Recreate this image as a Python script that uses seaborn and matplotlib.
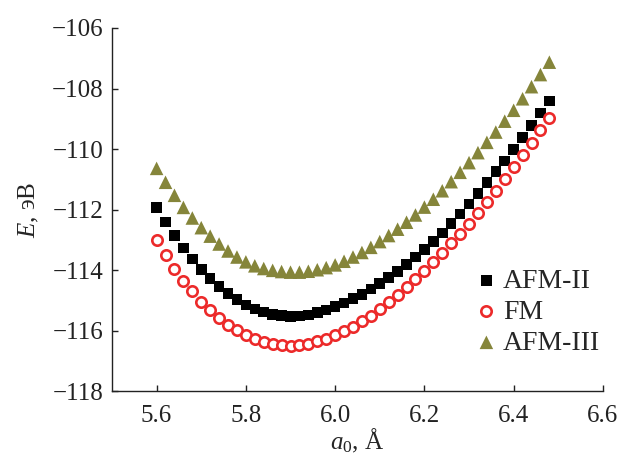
import numpy as np
import pandas as pd
import matplotlib
matplotlib.use("Agg")
import matplotlib.pyplot as plt
import seaborn as sns

# lattice parameter a0, A (step 0.02)
a0 = [5.60, 5.62, 5.64, 5.66, 5.68, 5.70, 5.72, 5.74, 5.76, 5.78,
      5.80, 5.82, 5.84, 5.86, 5.88, 5.90, 5.92, 5.94, 5.96, 5.98,
      6.00, 6.02, 6.04, 6.06, 6.08, 6.10, 6.12, 6.14, 6.16, 6.18,
      6.20, 6.22, 6.24, 6.26, 6.28, 6.30, 6.32, 6.34, 6.36, 6.38,
      6.40, 6.42, 6.44, 6.46, 6.48]

# total energy, eV
e_afm2 = [-111.93, -112.41, -112.86, -113.27, -113.64, -113.98, -114.28, -114.55, -114.78, -114.98,
          -115.15, -115.29, -115.39, -115.46, -115.51, -115.53, -115.52, -115.48, -115.41, -115.32,
          -115.21, -115.09, -114.95, -114.80, -114.63, -114.45, -114.25, -114.04, -113.81, -113.57,
          -113.32, -113.06, -112.78, -112.47, -112.15, -111.82, -111.47, -111.11, -110.75, -110.39,
          -110.01, -109.61, -109.22, -108.81, -108.41]
e_fm = [-113.01, -113.50, -113.95, -114.35, -114.70, -115.04, -115.33, -115.58, -115.80, -115.99,
        -116.15, -116.28, -116.38, -116.45, -116.49, -116.50, -116.48, -116.43, -116.36, -116.27,
        -116.16, -116.02, -115.87, -115.70, -115.51, -115.30, -115.07, -114.83, -114.57, -114.30,
        -114.02, -113.73, -113.43, -113.12, -112.80, -112.47, -112.12, -111.76, -111.39, -111.00,
        -110.60, -110.20, -109.79, -109.38, -108.96]
e_afm3 = [-110.64, -111.10, -111.53, -111.93, -112.28, -112.60, -112.88, -113.14, -113.37, -113.57,
          -113.73, -113.86, -113.95, -114.01, -114.05, -114.07, -114.07, -114.04, -113.99, -113.92,
          -113.83, -113.71, -113.57, -113.42, -113.25, -113.06, -112.86, -112.65, -112.42, -112.18,
          -111.92, -111.66, -111.38, -111.08, -110.77, -110.45, -110.12, -109.78, -109.44, -109.08,
          -108.72, -108.34, -107.94, -107.54, -107.13]

x_ticks = [5.6, 5.8, 6.0, 6.2, 6.4, 6.6]
y_ticks = [-118, -116, -114, -112, -110, -108, -106]

df = pd.DataFrame({"a0": a0, "AFM-II": e_afm2, "FM": e_fm, "AFM-III": e_afm3})

sns.set_style("ticks")
plt.rcParams["font.family"] = ["Liberation Serif", "DejaVu Serif"]
plt.rcParams["mathtext.fontset"] = "custom"
plt.rcParams["mathtext.rm"] = "Liberation Serif"
plt.rcParams["mathtext.it"] = "Liberation Serif:italic"

fig = plt.figure(figsize=(6.27, 4.59), dpi=100)
ax = fig.add_axes([0.1786, 0.148, 0.783, 0.791])

sns.scatterplot(data=df, x="a0", y="AFM-II", ax=ax, marker="s", s=58,
                color="black", edgecolor="none", label="AFM-II", zorder=3)
sns.scatterplot(data=df, x="a0", y="FM", ax=ax, marker="o", s=56,
                facecolor="white", edgecolor="#ec2a2a", linewidth=1.9, label="FM", zorder=3)
sns.scatterplot(data=df, x="a0", y="AFM-III", ax=ax, marker="^", s=95,
                color="#85853a", edgecolor="none", label="AFM-III", zorder=3)

ax.set_xlim(5.5, 6.6)
ax.set_ylim(-118, -106)
ax.set_xticks(x_ticks)
ax.set_xticklabels([f"{t:.1f}" for t in x_ticks])
ax.set_yticks(y_ticks)
ax.set_yticklabels([f"\u2212{abs(t)}" for t in y_ticks])
ax.tick_params(direction="in", length=4, width=1, labelsize=18, colors="#222222")
ax.tick_params(axis="x", pad=10)
ax.tick_params(axis="y", pad=6)
for side in ["top", "right"]:
    ax.spines[side].set_visible(False)
for side in ["left", "bottom"]:
    ax.spines[side].set_linewidth(1)
    ax.spines[side].set_color("#222222")

ax.set_xlabel(r"$a_0$, Å", fontsize=18, labelpad=0)
ax.set_ylabel(r"$E$, эВ", fontsize=18, labelpad=8)

leg = ax.legend(loc="center left", bbox_to_anchor=(0.740, 0.218), frameon=False,
                fontsize=20, handletextpad=0.2, labelspacing=0.2,
                handlelength=0.8, borderpad=0, borderaxespad=0)

fig.savefig("out.png", dpi=100)
